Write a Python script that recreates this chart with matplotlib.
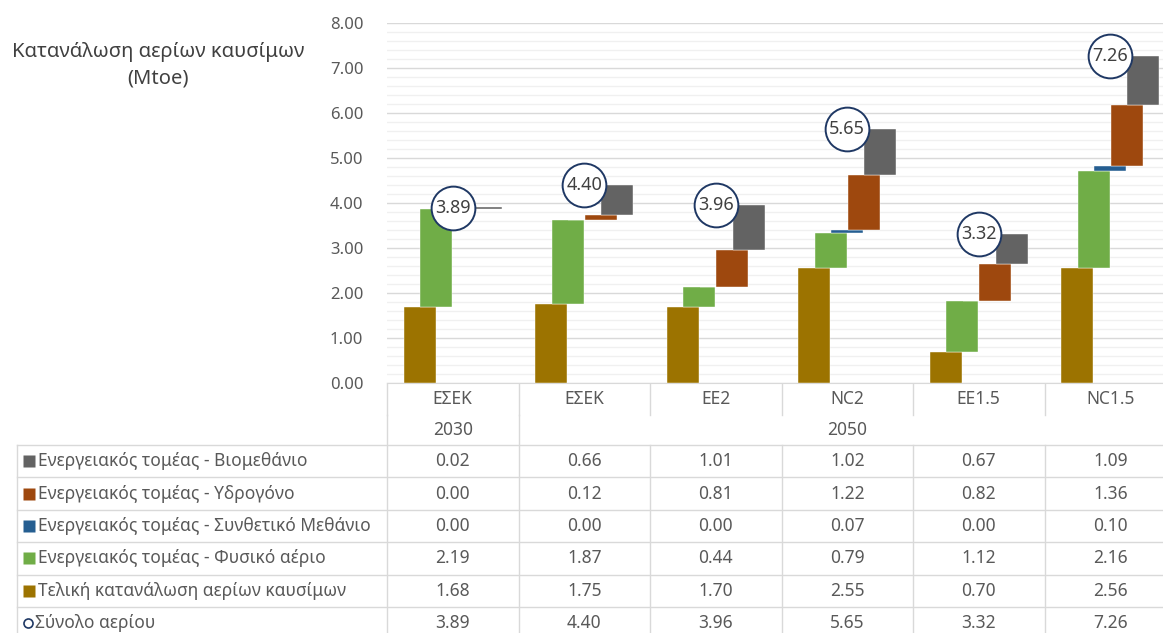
import numpy as np
import matplotlib.pyplot as plt
from matplotlib.transforms import blended_transform_factory
from matplotlib.lines import Line2D

plt.rcParams['font.family'] = ['Noto Sans', 'DejaVu Sans']

# -----------------------------------------------------------------------
# Data (Mtoe)
# -----------------------------------------------------------------------
scenarios = ['ΕΣΕΚ', 'ΕΣΕΚ', 'EE2', 'NC2', 'EE1.5', 'NC1.5']
years = ['2030', '2050']
year_span = [(0, 0), (1, 5)]

final_use = [1.68, 1.75, 1.70, 2.55, 0.70, 2.56]
natural_gas = [2.19, 1.87, 0.44, 0.79, 1.12, 2.16]
synth_methane = [0.00, 0.00, 0.00, 0.07, 0.00, 0.10]
hydrogen = [0.00, 0.12, 0.81, 1.22, 0.82, 1.36]
biomethane = [0.02, 0.66, 1.01, 1.02, 0.67, 1.09]
total_gas = [3.89, 4.40, 3.96, 5.65, 3.32, 7.26]

series_names = ['Ενεργειακός τομέας - Βιομεθάνιο',
                'Ενεργειακός τομέας - Υδρογόνο',
                'Ενεργειακός τομέας - Συνθετικό Μεθάνιο',
                'Ενεργειακός τομέας - Φυσικό αέριο',
                'Τελική κατανάλωση αερίων καυσίμων']
total_name = 'Σύνολο αερίου'

c_final = '#9c7300'
c_gas = '#70ad47'
c_synth = '#255e91'
c_h2 = '#9e480e'
c_bio = '#636363'
c_ring = '#1f3864'
txt = '#595959'

# -----------------------------------------------------------------------
# Figure / plot area (pixel layout of the original)
# -----------------------------------------------------------------------
W, H = 1163, 633
fig = plt.figure(figsize=(W / 100, H / 100), dpi=100)
ax_l, ax_r, ax_t, ax_b = 387, 1176, 23, 383
ax = fig.add_axes([ax_l / W, 1 - ax_b / H, (ax_r - ax_l) / W, (ax_b - ax_t) / H])

x = np.arange(len(scenarios))
bw = 0.245
step = 0.125

# staggered waterfall bars
bottom = np.zeros(len(x))
stack = [(final_use, c_final), (natural_gas, c_gas), (synth_methane, c_synth),
         (hydrogen, c_h2), (biomethane, c_bio)]
for k, (vals, col) in enumerate(stack):
    vals = np.array(vals)
    h = np.where(vals > 0, np.maximum(vals, 0.035), 0)
    ax.bar(x + (k - 2) * step, h, bw, bottom=bottom, color=col, zorder=3,
           edgecolor='white', linewidth=0.3)
    bottom = bottom + vals

# total rings
ax.plot(x, total_gas, 'o', ms=31.5, mfc='white', mec=c_ring, mew=1.4, zorder=5)
for xi, v in zip(x, total_gas):
    ax.text(xi, v, f'{v:.2f}', ha='center', va='center', fontsize=13,
            color='#404040', zorder=6)

ax.set_xlim(-0.5, len(x) - 0.5)
ax.set_ylim(0, 8)
ax.set_yticks(np.arange(0, 8.01, 1))
ax.set_yticklabels([f'{v:.2f}' for v in np.arange(0, 8.01, 1)])
ax.set_yticks(np.arange(0, 8.01, 0.2), minor=True)
ax.grid(axis='y', which='major', color='#d9d9d9', lw=1.0, zorder=0)
ax.grid(axis='y', which='minor', color='#f0f0f0', lw=1.0, zorder=0)
ax.set_xticks([])
ax.tick_params(axis='y', which='both', length=0, pad=17, labelsize=12,
               labelcolor=txt)
for s in ['left', 'right', 'top']:
    ax.spines[s].set_visible(False)
ax.spines['bottom'].set_color('#d9d9d9')
ax.set_axisbelow(True)

fig.text(158 / W, 1 - 65 / H, 'Κατανάλωση αερίων καυσίμων\n(Mtoe)',
         ha='center', va='center', fontsize=14.5, color='#404040',
         linespacing=1.45)

# -----------------------------------------------------------------------
# Data table below the chart
# -----------------------------------------------------------------------
tab = fig.add_axes([0, 0, 1, 1], zorder=-1)
tab.set_xlim(0, W)
tab.set_ylim(H, 0)
tab.axis('off')
tr = blended_transform_factory(ax.transData, tab.transData)
grid_c = '#d9d9d9'
fs = 12.5

row_top = 445
row_h = 32.4
n_rows = 6
edges = [e - 0.5 for e in range(len(x) + 1)]

# category row and year row
for xi, name in zip(x, scenarios):
    tab.text(xi, 399, name, transform=tr, ha='center', va='center',
             fontsize=fs, color=txt)
for yr, (a, b) in zip(years, year_span):
    tab.text((a + b) / 2, 430, yr, transform=tr, ha='center', va='center',
             fontsize=fs, color=txt)
for e in edges:
    tab.add_line(Line2D([e, e], [383, 415], transform=tr, color=grid_c, lw=1))
for e in [-0.5, 0.5]:
    tab.add_line(Line2D([e, e], [415, H], transform=tr, color=grid_c, lw=1))

# data rows
rows = [biomethane, hydrogen, synth_methane, natural_gas, final_use, total_gas]
colors = [c_bio, c_h2, c_synth, c_gas, c_final]
for i in range(n_rows + 1):
    y = row_top + i * row_h
    tab.plot([17, W], [y, y], color=grid_c, lw=1)
tab.plot([17, 17], [row_top, H], color=grid_c, lw=1)
for e in edges[2:]:
    tab.add_line(Line2D([e, e], [row_top, H], transform=tr, color=grid_c, lw=1))

for i, vals in enumerate(rows):
    yc = row_top + (i + 0.5) * row_h
    if i < len(series_names):
        tab.plot(29, yc, 's', ms=8.5, color=colors[i], mec='none')
        tab.text(38, yc, series_names[i], ha='left', va='center',
                 fontsize=fs, color=txt)
    else:
        tab.plot(28, yc, 'o', ms=6.5, mfc='white', mec=c_ring, mew=1.2)
        tab.text(35, yc, total_name, ha='left', va='center',
                 fontsize=fs, color=txt)
    for xi, v in zip(x, vals):
        tab.text(xi, yc, f'{v:.2f}', transform=tr, ha='center', va='center',
                 fontsize=fs, color=txt)

fig.savefig('out.png', dpi=100)
